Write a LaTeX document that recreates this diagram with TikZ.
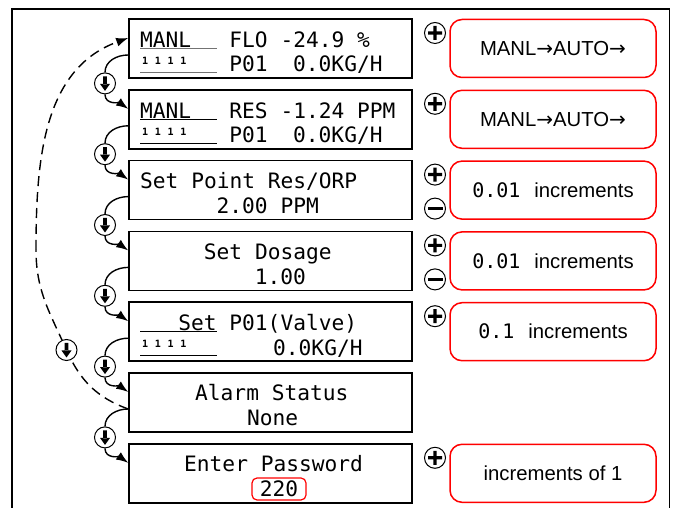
\documentclass[tikz,border=0pt]{standalone}
\usepackage{fontspec}
\setmainfont{Liberation Sans}
\newfontfamily\lcd{DejaVu Sans Mono}
\newfontfamily\arrfont{DejaVu Sans}
\usetikzlibrary{arrows.meta,calc}
\newcommand\lcdfont{\lcd\fontsize{21.2}{25}\selectfont}
\newcommand\lcdsmall{\lcd\bfseries\fontsize{10}{12}\selectfont}
\newcommand\redfont{\fontsize{20.3}{24}\selectfont}
\newcommand\redmono{\lcd\fontsize{20}{24}\selectfont}
\newcommand\ones{1\kern6.7pt1\kern6.7pt1\kern6.7pt1}
\newcommand\rarr{{\arrfont\fontsize{20}{24}\selectfont →}}
\tikzset{
  lcdbox/.style={draw, line width=1.6pt, minimum width=283pt, minimum height=59pt, inner sep=0pt},
  redbox/.style={draw=red, line width=1.5pt, rounded corners=12pt, minimum width=206pt, minimum height=58pt, inner sep=0pt, font=\redfont},
  txt/.style={anchor=base west, inner sep=0pt, font=\lcdfont},
  smalltxt/.style={anchor=base west, inner sep=0pt, font=\lcdsmall},
  uline/.style={line width=1.4pt},
  gline/.style={line width=1.4pt, draw=black!55},
  circ/.style={circle, draw, line width=1pt, minimum size=21pt, inner sep=0pt, fill=white},
  conn/.style={line width=1.4pt},
  tip/.style={-{Latex[length=12pt,width=9pt]}},
  dashln/.style={line width=1.4pt, dash pattern=on 10pt off 6pt}
}
\begin{document}
\begin{tikzpicture}[x=1pt,y=1pt]
\useasboundingbox (0,0) rectangle (674,508);
\fill[white] (0,0) rectangle (674,508);
% outer frame
\draw[line width=1.5pt] (12,-2) -- (12,499) -- (669.5,499) -- (669.5,-2);

% LCD boxes
\node[lcdbox] (b1) at (270.5,459.5) {};
\node[lcdbox] (b2) at (270.5,388.7) {};
\node[lcdbox] (b3) at (270.5,317.9) {};
\node[lcdbox] (b4) at (270.5,247.1) {};
\node[lcdbox] (b5) at (270.5,176.3) {};
\node[lcdbox] (b6) at (270.5,105.5) {};
\node[lcdbox] (b7) at (270.5,34.7) {};

% box 1 texts
\node[txt] (t1a) at (140,460.5) {MANL};
\node[txt] (t1b) at (229.25,460.5) {FLO -24.9 \%};
\node[smalltxt] (t1c) at (142,443.5) {\ones};
\node[txt] (t1d) at (229.25,436) {P01};
\node[txt] (t1e) at (293,436) {0.0KG/H};
\draw[gline] (140,459.5) -- (217,459.5);
\draw[gline] (140,435.5) -- (217,435.5);

% box 2 texts
\node[txt] (t2a) at (140,389.7) {MANL};
\node[txt] (t2b) at (229.25,389.7) {RES -1.24 PPM};
\node[smalltxt] (t2c) at (142,372.7) {\ones};
\node[txt] (t2d) at (229.25,365.2) {P01};
\node[txt] (t2e) at (293,365.2) {0.0KG/H};
\draw[uline] (140,388.7) -- (217,388.7);
\draw[uline] (140,364.7) -- (217,364.7);

% box 3
\node[txt] (t3a) at (140,319.4) {Set Point Res/ORP};
\node[txt] (t3b) at (216.5,294.4) {2.00 PPM};

% box 4
\node[txt] (t4a) at (203.75,248.6) {Set Dosage};
\node[txt] (t4b) at (254.75,223.6) {1.00};

% box 5
\node[txt] (t5a) at (178.25,177.8) {Set};
\node[txt] (t5b) at (229.25,177.8) {P01(Valve)};
\draw[uline] (140,176.3) -- (217,176.3);
\node[smalltxt] (t5c) at (142,160.3) {\ones};
\node[txt] (t5d) at (273,152.8) {0.0KG/H};
\draw[uline] (140,152.3) -- (217,152.3);

% box 6
\node[txt] (t6a) at (195,107) {Alarm Status};
\node[txt] (t6b) at (247,82) {None};

% box 7
\node[txt] (t7a) at (184,36.2) {Enter Password};
\node[draw=red, line width=1.2pt, rounded corners=5pt, minimum width=54pt, minimum height=22pt, inner sep=0pt, font=\lcdfont] (pw) at (279,19) {220};

% red boxes
\node[redbox] (r1) at (553,459.5) {MANL\rarr AUTO\rarr};
\node[redbox] (r2) at (553,388.7) {MANL\rarr AUTO\rarr};
\node[redbox] (r3) at (553,317.9) {{\redmono 0.01}\hspace{14pt}increments};
\node[redbox] (r4) at (553,247.1) {{\redmono 0.01}\hspace{14pt}increments};
\node[redbox] (r5) at (553,176.3) {{\redmono 0.1}\hspace{14pt}increments};
\node[redbox] (r7) at (553,34.7) {increments of 1};

% plus / minus buttons
\node[circ] (p1) at (435,475) {};
\node[circ] (p2) at (435,404.2) {};
\node[circ] (p3) at (435,333.4) {};
\node[circ] (m3) at (435,299.4) {};
\node[circ] (p4) at (435,262.6) {};
\node[circ] (m4) at (435,228.6) {};
\node[circ] (p5) at (435,191.8) {};
\node[circ] (p7) at (435,50.2) {};
\foreach \n in {p1,p2,p3,p4,p5,p7}{
  \begin{scope}[shift={(\n.center)}]
    \fill (-7,-1.6) rectangle (7,1.6) (-1.6,-7) rectangle (1.6,7);
  \end{scope}
}
\foreach \n in {m3,m4}{
  \begin{scope}[shift={(\n.center)}]
    \fill (-7.5,-1.8) rectangle (7.5,1.8);
  \end{scope}
}

% dashed return path
\coordinate (b6o) at ($(b6.west)+(0,-6.5)$);
\coordinate (b1i) at ($(b1.west)+(0,10.5)$);
\coordinate (dcc) at (66.5,158);
\coordinate (lm) at (36,258);
\draw[dashln] (b6o) to[out=160,in=-66] (dcc) to[out=114,in=-90] (lm);
\draw[dashln,tip] (lm) to[out=90,in=200] (b1i);
\node[circ] (dc) at (dcc) {};

% down buttons and solid connectors
\node[circ] (d1) at (105,424.6) {};
\node[circ] (d2) at (105,353.8) {};
\node[circ] (d3) at (105,283) {};
\node[circ] (d4) at (105,212.2) {};
\node[circ] (d5) at (105,141.4) {};
\node[circ] (d6) at (105,70.6) {};
\foreach \n in {dc,d1,d2,d3,d4,d5,d6}{
  \begin{scope}[shift={(\n.center)}]
    \fill (-1.8,7) rectangle (1.8,-1) (-5,-0.5) -- (5,-0.5) -- (0,-7.5) -- cycle;
  \end{scope}
}
\foreach \i/\j in {1/2,2/3,3/4,4/5,5/6,6/7}{
  \draw[conn] ($(b\i.west)+(0,-6.5)$) to[out=180,in=90] (d\i.north);
  \draw[conn,tip] (d\i.south) to[out=-90,in=145] ($(b\j.west)+(0,10.5)$);
}
\end{tikzpicture}
\end{document}
